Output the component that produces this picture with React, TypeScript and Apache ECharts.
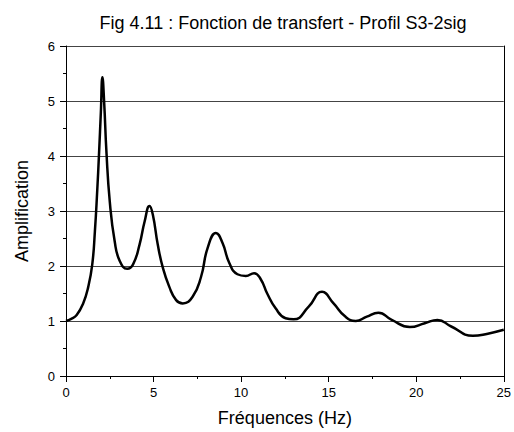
import React, { useEffect, useRef } from "react";
import * as echarts from "echarts";

const titleText = "Fig 4.11 : Fonction de transfert - Profil S3-2sig";
const xTitle = "Fréquences (Hz)";
const yTitle = "Amplification";

const freq = [
  0, 0.3, 0.61, 0.98, 1.27, 1.5, 1.65, 1.78, 1.89, 1.99, 2.08, 2.18, 2.31, 2.5, 2.78, 3.07,
  3.5, 3.83, 4.2, 4.49, 4.77, 4.96, 5.24, 5.53, 5.9, 6.29, 6.67, 7.23, 7.71, 8.09, 8.56,
  8.94, 9.32, 9.79, 10.27, 10.74, 11.12, 11.49, 11.97, 12.54, 13.0, 13.86, 14.62,
  15.28, 15.95, 16.55, 17.18, 17.84, 18.6, 19.64, 20.49, 21.21, 22.0, 23.24, 24.09, 25,
];
const amp = [
  1.0, 1.04, 1.11, 1.32, 1.62, 2.03, 2.63, 3.35, 4.07, 4.79, 5.43, 4.97, 4.07, 3.17, 2.45, 2.09,
  1.95, 2.03, 2.39, 2.81, 3.09, 2.93, 2.39, 1.97, 1.62, 1.38, 1.32, 1.44, 1.8, 2.33, 2.6,
  2.42, 2.06, 1.85, 1.82, 1.87, 1.76, 1.5, 1.23, 1.05, 1.03, 1.26, 1.53,
  1.32, 1.08, 1.0, 1.08, 1.15, 1.02, 0.89, 0.96, 1.02, 0.9, 0.73, 0.77, 0.84,
];

export default function App() {
  const ref = useRef<HTMLDivElement>(null);
  useEffect(() => {
    if (!ref.current) return;
    const chart = echarts.init(ref.current, undefined, { renderer: "svg" });
    const font = "Liberation Sans, Arial, sans-serif";
    chart.setOption({
      animation: false,
      backgroundColor: "#ffffff",
      title: {
        text: titleText,
        left: 278,
        textAlign: "center",
        top: 9,
        textStyle: { fontFamily: font, fontSize: 18, fontWeight: "normal", color: "#000" },
      },
      grid: { left: 66, right: 7, top: 46, bottom: 52, containLabel: false },
      xAxis: {
        type: "value",
        min: 0,
        max: 25,
        interval: 5,
        name: xTitle,
        nameLocation: "middle",
        nameGap: 33,
        nameTextStyle: { fontFamily: font, fontSize: 18, color: "#000" },
        axisLine: { show: true, onZero: false, lineStyle: { color: "#000", width: 1 } },
        axisTick: { show: true, inside: false, length: 6, lineStyle: { color: "#000" } },
        minorTick: { show: true, splitNumber: 2, length: 3, lineStyle: { color: "#000" } },
        axisLabel: { fontFamily: font, fontSize: 13, color: "#000", margin: 10 },
        splitLine: { show: false },
      },
      yAxis: [
        {
          type: "value",
          min: 0,
          max: 6,
          interval: 1,
          name: yTitle,
          nameLocation: "middle",
          nameGap: 35,
          nameTextStyle: { fontFamily: font, fontSize: 18, color: "#000" },
          axisLine: { show: true, onZero: false, lineStyle: { color: "#000", width: 1 } },
          axisTick: { show: true, inside: false, length: 6, lineStyle: { color: "#000" } },
          minorTick: { show: true, splitNumber: 2, length: 3, lineStyle: { color: "#000" } },
          axisLabel: { fontFamily: font, fontSize: 13, color: "#000", margin: 11 },
          splitLine: { show: true, lineStyle: { color: "#444", width: 1 } },
        },
        {
          type: "value",
          position: "right",
          min: 0,
          max: 6,
          interval: 1,
          axisLine: { show: true, onZero: false, lineStyle: { color: "#000", width: 1 } },
          axisTick: { show: false },
          axisLabel: { show: false },
          splitLine: { show: false },
        },
      ],
      series: [
        {
          type: "line",
          data: freq.map((f, i) => [f, amp[i]]),
          smooth: 0.5,
          showSymbol: false,
          lineStyle: { color: "#000", width: 2.5 },
        },
      ],
    });
    return () => chart.dispose();
  }, []);
  return <div ref={ref} style={{ width: 514, height: 432, position: "absolute", left: 0, top: 0 }} />;
}
